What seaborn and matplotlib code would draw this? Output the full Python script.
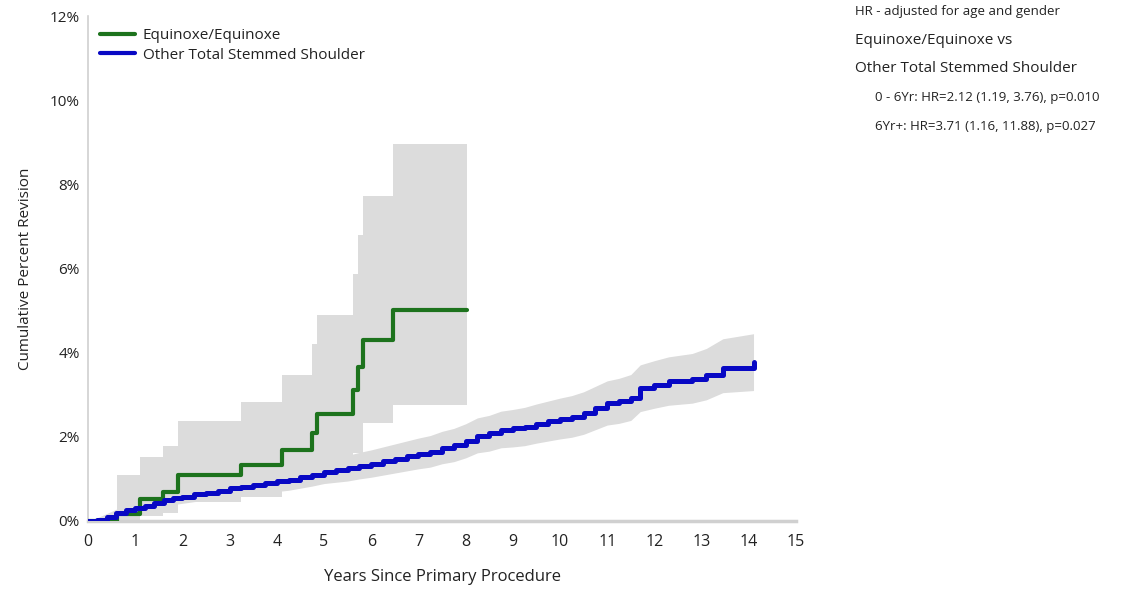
import matplotlib
matplotlib.use("Agg")
import matplotlib.pyplot as plt
import seaborn as sns
import pandas as pd
import numpy as np

# ---------------- data ----------------
green_label = "Equinoxe/Equinoxe"
blue_label = "Other Total Stemmed Shoulder"

green_years = [0, 0.61, 1.10, 1.58, 1.91, 3.24, 4.10, 4.74, 4.86, 5.62, 5.73, 5.83, 6.47, 8.02]
green_cpr = [0, 0.17, 0.52, 0.70, 1.10, 1.33, 1.69, 2.10, 2.55, 3.12, 3.66, 4.29, 5.02, 5.02]
green_lower = [0, 0, 0.12, 0.20, 0.45, 0.58, 0.85, 1.10, 1.30, 1.62, 1.62, 2.33, 2.76, 2.76]
green_upper = [0, 1.10, 1.53, 1.79, 2.38, 2.83, 3.46, 4.21, 4.90, 5.86, 6.80, 7.72, 8.95, 8.95]

blue_years = [0, 0.2, 0.4, 0.6, 0.8, 1.0, 1.2, 1.4, 1.6, 1.8, 2.0, 2.25, 2.5, 2.75,
              3.0, 3.25, 3.5, 3.75, 4.0, 4.25, 4.5, 4.75, 5.0, 5.25, 5.5, 5.75,
              6.0, 6.25, 6.5, 6.75, 7.0, 7.25, 7.5, 7.75, 8.0, 8.25, 8.5, 8.75,
              9.0, 9.25, 9.5, 9.75, 10.0, 10.25, 10.5, 10.75, 11.0, 11.25, 11.5,
              11.7, 12.0, 12.3, 12.8, 13.1, 13.45, 14.1]
blue_cpr = [0, 0.03, 0.10, 0.18, 0.25, 0.31, 0.36, 0.42, 0.49, 0.54, 0.58, 0.63, 0.67, 0.71,
            0.78, 0.81, 0.85, 0.90, 0.94, 0.98, 1.04, 1.10, 1.17, 1.21, 1.25, 1.31,
            1.36, 1.42, 1.48, 1.54, 1.60, 1.65, 1.74, 1.80, 1.90, 2.03, 2.08, 2.17,
            2.20, 2.24, 2.31, 2.37, 2.43, 2.48, 2.56, 2.68, 2.80, 2.85, 2.93,
            3.15, 3.24, 3.32, 3.38, 3.48, 3.64, 3.79]
blue_lower = [0, 0.00, 0.03, 0.09, 0.15, 0.20, 0.24, 0.29, 0.35, 0.39, 0.42, 0.46, 0.49, 0.52,
              0.58, 0.60, 0.63, 0.67, 0.70, 0.73, 0.78, 0.83, 0.89, 0.92, 0.95, 1.00,
              1.04, 1.09, 1.14, 1.19, 1.24, 1.28, 1.36, 1.41, 1.50, 1.62, 1.66, 1.74,
              1.76, 1.79, 1.85, 1.90, 1.95, 1.99, 2.06, 2.17, 2.28, 2.32, 2.39,
              2.60, 2.68, 2.75, 2.80, 2.88, 3.05, 3.10]
blue_upper = [0, 0.08, 0.18, 0.28, 0.36, 0.43, 0.49, 0.56, 0.64, 0.70, 0.75, 0.81, 0.86, 0.91,
              0.99, 1.03, 1.08, 1.14, 1.19, 1.24, 1.31, 1.38, 1.46, 1.51, 1.56, 1.63,
              1.69, 1.76, 1.83, 1.90, 1.97, 2.03, 2.13, 2.20, 2.31, 2.45, 2.51, 2.61,
              2.65, 2.70, 2.78, 2.85, 2.92, 2.98, 3.07, 3.20, 3.33, 3.39, 3.48,
              3.71, 3.81, 3.90, 3.98, 4.10, 4.33, 4.45]

x_ticks = list(range(0, 16))
y_ticks = [0, 2, 4, 6, 8, 10, 12]
y_tick_labels = ["0%", "2%", "4%", "6%", "8%", "10%", "12%"]

annot_title = "HR - adjusted for age and gender"
annot_lines = ["Equinoxe/Equinoxe vs", "Other Total Stemmed Shoulder"]
annot_hr = ["0 - 6Yr: HR=2.12 (1.19, 3.76), p=0.010",
            "6Yr+: HR=3.71 (1.16, 11.88), p=0.027"]

# ---------------- style ----------------
sns.set_style("white")
plt.rcParams['font.family'] = ['Open Sans', 'DejaVu Sans']

green_c = "#1d731d"
blue_c = "#0808c4"
band_c = "#dcdcdc"

fig = plt.figure(figsize=(11.32, 5.91), dpi=100)
ax = fig.add_axes([88/1132, 1-521/591, (796-88)/1132, (521-16)/591])

# CI bands
ax.fill_between(blue_years, blue_lower, blue_upper, color=band_c, lw=0, zorder=1)
ax.fill_between(green_years, green_lower, green_upper, step="post", color=band_c, lw=0, zorder=1)

df_g = pd.DataFrame({"Years": green_years, "CPR": green_cpr, "Group": green_label})
df_b = pd.DataFrame({"Years": blue_years, "CPR": blue_cpr, "Group": blue_label})

sns.lineplot(data=df_g, x="Years", y="CPR", ax=ax, color=green_c, lw=3.0,
             drawstyle="steps-post", estimator=None, sort=False, label=green_label, zorder=3)
sns.lineplot(data=df_b, x="Years", y="CPR", ax=ax, color=blue_c, lw=3.6,
             drawstyle="steps-post", estimator=None, sort=False, label=blue_label, zorder=4)

ax.set_xlim(0, 15)
ax.set_ylim(0, 12)
ax.set_xticks(x_ticks)
ax.set_xticklabels([str(t) for t in x_ticks], fontsize=11.5, color="#222222")
ax.set_yticks(y_ticks)
ax.set_yticklabels(y_tick_labels, fontsize=11, color="#222222")
ax.tick_params(axis='both', length=0, pad=6)
ax.tick_params(axis='x', pad=9)

for s in ["top", "right"]:
    ax.spines[s].set_visible(False)
ax.spines["left"].set_color("#d0d0d0")
ax.spines["left"].set_linewidth(1.2)
ax.spines["bottom"].set_color("#d0d0d0")
ax.spines["bottom"].set_linewidth(2.5)

ax.set_xlabel("Years Since Primary Procedure", fontsize=12, color="#222222", labelpad=14)
ax.set_ylabel("Cumulative Percent Revision", fontsize=11, color="#222222", labelpad=12)

leg = ax.legend(loc="upper left", bbox_to_anchor=(0.0, 1.0), frameon=False,
                fontsize=11, handlelength=2.3, handletextpad=0.5, labelspacing=0.3,
                borderaxespad=0.4)
for line in leg.get_lines():
    line.set_linewidth(3)
for t in leg.get_texts():
    t.set_color("#222222")

# right-side annotation
fig.text(855/1132, 1-11/591, annot_title, fontsize=9.5, va="center", ha="left", color="#222222")
fig.text(855/1132, 1-40/591, annot_lines[0], fontsize=11, va="center", ha="left", color="#222222")
fig.text(855/1132, 1-69/591, annot_lines[1], fontsize=11, va="center", ha="left", color="#222222")
fig.text(875/1132, 1-98/591, annot_hr[0], fontsize=9.5, va="center", ha="left", color="#222222")
fig.text(875/1132, 1-127/591, annot_hr[1], fontsize=9.5, va="center", ha="left", color="#222222")

fig.savefig("out.png", dpi=100)
